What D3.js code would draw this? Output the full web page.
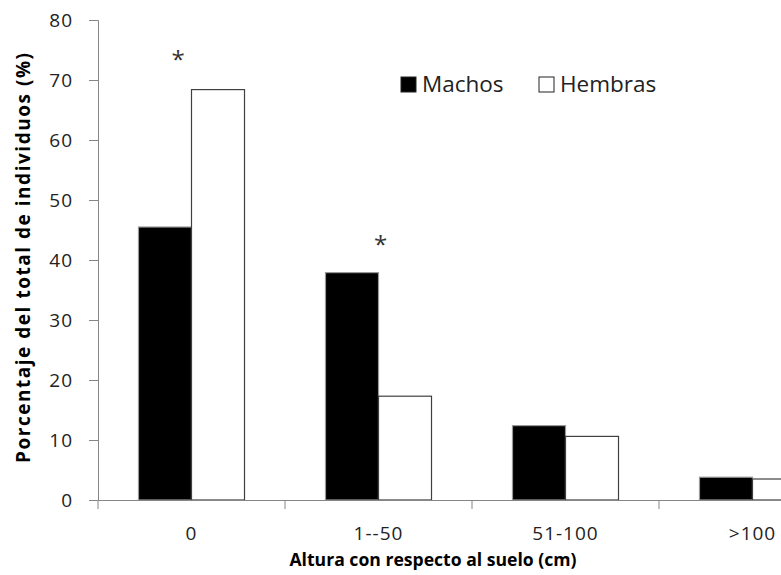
<!DOCTYPE html>
<meta charset="utf-8">
<script src="https://d3js.org/d3.v7.min.js"></script>
<style>
  body { margin: 0; background: #fff; }
  text { font-family: "Open Sans", Lato, sans-serif; }
</style>
<body>
<div id="vis"></div>
<script>
  // Data
  const categories = ['0', '1--50', '51-100', '>100']
  const groups = ['Machos', 'Hembras']
  const machos = [45.5, 37.9, 12.4, 3.8]
  const hembras = [68.4, 17.3, 10.6, 3.5]
  const yTicks = [0, 10, 20, 30, 40, 50, 60, 70, 80]
  // significance marks: category, y value, side offset within group
  const stars = [
    {cat: '0', y: 74.2, dx: -0.255},
    {cat: '1--50', y: 43.3, dx: 0.04}
  ]

  const width = 781, height = 575
  const x0 = 98, y0 = 500, step = 187

  const svg = d3.select('#vis').append('svg')
    .attr('width', width)
    .attr('height', height)

  const x = d3.scaleBand()
    .domain(categories)
    .range([x0, x0 + step * categories.length])
    .paddingInner(0).paddingOuter(0)

  const xs = d3.scaleBand()
    .domain(groups)
    .range([0, x.bandwidth()])
    .paddingInner(0).paddingOuter(0.764)

  const y = d3.scaleLinear()
    .domain([0, 80])
    .range([y0, 20])

  const axisColor = '#868686'

  // y axis
  const yAxis = svg.append('g')
    .attr('transform', 'translate(' + x0 + ',0)')
    .call(d3.axisLeft(y).tickValues(yTicks).tickSize(9).tickPadding(16))
  yAxis.select('.domain').attr('stroke', axisColor)
  yAxis.selectAll('line').attr('stroke', axisColor)
  yAxis.selectAll('text').attr('font-size', 19).attr('fill', '#222')
    .attr('letter-spacing', 1)

  // bars
  const rows = categories.map((c, i) => ({cat: c, Machos: machos[i], Hembras: hembras[i]}))
  const g = svg.append('g')
  g.selectAll('g')
    .data(rows)
    .enter()
    .append('g')
      .attr('transform', d => 'translate(' + x(d.cat) + ',0)')
    .selectAll('rect')
    .data(d => groups.map(k => ({key: k, value: d[k]})))
    .enter()
    .append('rect')
      .attr('x', d => xs(d.key))
      .attr('y', d => y(d.value))
      .attr('width', xs.bandwidth())
      .attr('height', d => y0 - y(d.value))
      .attr('fill', d => d.key === 'Machos' ? '#000' : '#fff')
      .attr('stroke', d => d.key === 'Machos' ? '#999' : '#404040')
      .attr('stroke-width', 1.2)

  // x axis
  const xAxis = svg.append('g')
    .attr('transform', 'translate(0,' + y0 + ')')
    .call(d3.axisBottom(x).tickSize(0).tickPadding(27))
  xAxis.select('.domain').attr('stroke', axisColor)
  xAxis.selectAll('text').attr('font-size', 19).attr('fill', '#222')
    .attr('letter-spacing', 1)
  // tick marks at band boundaries
  xAxis.selectAll('line.sep')
    .data(categories)
    .enter()
    .append('line')
      .attr('class', 'sep')
      .attr('x1', d => x(d)).attr('x2', d => x(d))
      .attr('y1', 0).attr('y2', 9)
      .attr('stroke', axisColor)

  // asterisks
  svg.selectAll('text.star')
    .data(stars)
    .enter()
    .append('text')
      .attr('class', 'star')
      .attr('x', d => x(d.cat) + x.bandwidth() / 2 + d.dx * 53)
      .attr('y', d => y(d.y) + 13)
      .attr('text-anchor', 'middle')
      .attr('font-size', 24)
      .attr('fill', '#333')
      .text('*')

  // legend
  const legend = svg.append('g')
  const legendX = [401, 539]
  groups.forEach((k, i) => {
    legend.append('rect')
      .attr('x', legendX[i]).attr('y', 77)
      .attr('width', 15).attr('height', 15)
      .attr('fill', k === 'Machos' ? '#000' : '#fff')
      .attr('stroke', '#222')
    legend.append('text')
      .attr('x', legendX[i] + 21).attr('y', 92)
      .attr('font-size', 22.5)
      .attr('fill', '#222')
      .text(k)
  })

  // axis titles
  svg.append('text')
    .attr('transform', 'translate(30,' + 258 + ') rotate(-90)')
    .attr('text-anchor', 'middle')
    .attr('font-size', 19)
    .attr('font-weight', 'bold')
    .attr('textLength', 410)
    .attr('lengthAdjust', 'spacing')
    .text('Porcentaje del total de individuos (%)')

  svg.append('text')
    .attr('x', 433).attr('y', 566)
    .attr('text-anchor', 'middle')
    .attr('font-family', 'Lato, "Open Sans", sans-serif')
    .attr('font-size', 17.6)
    .attr('font-weight', 'bold')
    .text('Altura con respecto al suelo (cm)')
</script>
</body>
